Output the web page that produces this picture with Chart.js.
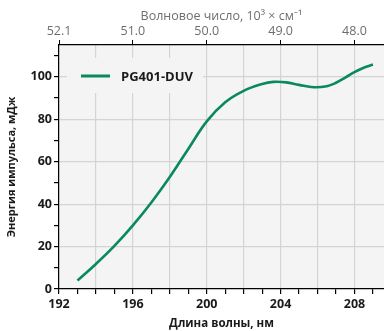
<!DOCTYPE html>
<html>
<head>
<meta charset="utf-8">
<script src="https://cdn.jsdelivr.net/npm/chart.js@4.4.0/dist/chart.umd.min.js"></script>
<style>
html,body{margin:0;padding:0;background:#fff;}
#wrap{width:384px;height:331px;}
</style>
</head>
<body>
<div id="wrap"><canvas id="c" width="384" height="331"></canvas></div>
<script>
const seriesLabel = "PG401-DUV";
const wavelengthNm = [193, 194, 195, 196, 197, 198, 199, 200, 201, 202, 203, 203.6, 204.3, 205, 205.8, 206.5, 207, 207.5, 208, 208.5, 209];
const energyMJ =     [4, 11.8, 20.3, 30, 40.8, 52.8, 66, 79, 88, 93.4, 96.6, 97.6, 97.4, 96.2, 95.1, 95.6, 97.2, 99.6, 102.2, 104.3, 105.8];
const bottomTickValues = [192, 196, 200, 204, 208];
const topTickLabels = ["52.1", "51.0", "50.0", "49.0", "48.0"];
const minorXTicks = [192, 193, 194, 195, 196, 197, 198, 199, 200, 201, 202, 203, 204, 205, 206, 207, 208, 209];
const yTicks = [0, 10, 20, 30, 40, 50, 60, 70, 80, 90, 100, 110];
const xTitle = "Длина волны, нм";
const x2Title = "Волновое число, 10³ × см⁻¹";
const yTitle = "Энергия импульса, мДж";

const FONT = "'Open Sans', 'Noto Sans', sans-serif";
const GREEN = "#0a8a5c";
const PLOT_BG = "#f4f4f4";
const GRID = "#d4d4d4";

const bgPlugin = {
  id: 'plotBg',
  beforeDraw(chart) {
    const {ctx, chartArea: a} = chart;
    ctx.save();
    ctx.fillStyle = PLOT_BG;
    ctx.fillRect(a.left, a.top, a.right - a.left, a.bottom - a.top);
    ctx.restore();
  }
};

const legendPlugin = {
  id: 'insideLegend',
  beforeDatasetsDraw(chart) {
    const {ctx, chartArea: a} = chart;
    const ds = chart.data.datasets[0];
    const x0 = a.left + 8, y0 = a.top + 13;
    ctx.save();
    ctx.fillStyle = PLOT_BG;
    ctx.fillRect(x0, y0, 136, 35);
    ctx.strokeStyle = ds.borderColor;
    ctx.lineWidth = 3;
    ctx.beginPath();
    ctx.moveTo(a.left + 22, a.top + 31);
    ctx.lineTo(a.left + 51, a.top + 31);
    ctx.stroke();
    ctx.fillStyle = "#1a1a1a";
    ctx.font = "bold 13px " + FONT;
    ctx.textBaseline = "middle";
    ctx.fillText(ds.label, a.left + 62, a.top + 32);
    ctx.restore();
  }
};

const setTicks = (vals) => (s) => { s.ticks = vals.map(v => ({value: v})); };

new Chart(document.getElementById('c'), {
  type: 'scatter',
  data: {
    datasets: [{
      label: seriesLabel,
      data: wavelengthNm.map((x, i) => ({x: x, y: energyMJ[i]})),
      showLine: true,
      borderColor: GREEN,
      borderWidth: 2.6,
      pointRadius: 0,
      tension: 0.4,
      fill: false
    }]
  },
  options: {
    responsive: false,
    animation: false,
    layout: {padding: {left: 0, right: 0, top: 0, bottom: 0}},
    plugins: {legend: {display: false}, tooltip: {enabled: false}},
    scales: {
      x: {
        type: 'linear', position: 'bottom',
        min: 192, max: 209.6,
        afterBuildTicks: setTicks(minorXTicks),
        afterFit(s) { s.height = 42; },
        border: {color: '#000', width: 1.2},
        grid: {
          color: (c) => (c.tick && c.tick.value % 2 === 0) ? GRID : 'rgba(0,0,0,0)',
          lineWidth: 1.2,
          tickColor: '#000', tickLength: 5, drawTicks: true
        },
        ticks: {
          autoSkip: false, maxRotation: 0, padding: 3,
          color: '#1a1a1a',
          font: {family: FONT, size: 12.5, weight: 'bold'},
          callback: (v) => bottomTickValues.includes(v) ? String(v) : ''
        },
        title: {display: true, text: xTitle, color: '#1a1a1a', padding: {top: 2, bottom: 0},
          font: {family: FONT, size: 11.5, weight: 'bold'}}
      },
      x2: {
        type: 'linear', position: 'top',
        min: 192, max: 209.6,
        afterBuildTicks: setTicks(bottomTickValues),
        afterFit(s) { s.height = 45; },
        border: {color: '#000', width: 1.2},
        grid: {drawOnChartArea: false, tickColor: '#000', tickLength: 5},
        ticks: {
          autoSkip: false, maxRotation: 0, padding: 1,
          color: '#6e6e6e',
          font: {family: FONT, size: 12.5},
          callback: (v) => { const i = bottomTickValues.indexOf(v); return i >= 0 ? topTickLabels[i] : ''; }
        },
        title: {display: true, text: x2Title, color: '#6e6e6e', padding: {top: 9, bottom: 0},
          font: {family: FONT, size: 12.5}}
      },
      y: {
        type: 'linear', position: 'left',
        min: 0, max: 115,
        afterBuildTicks: setTicks(yTicks),
        afterFit(s) { s.width = 59; },
        border: {color: '#000', width: 1.2},
        grid: {
          color: (c) => (c.tick && c.tick.value % 20 === 0 && c.tick.value > 0) ? GRID : 'rgba(0,0,0,0)',
          lineWidth: 1.2,
          tickColor: '#000', tickLength: 5
        },
        ticks: {
          autoSkip: false, padding: 2,
          color: '#1a1a1a',
          font: {family: FONT, size: 12.5, weight: 'bold'},
          callback: (v) => (v % 20 === 0) ? String(v) : ''
        },
        title: {display: true, text: yTitle, color: '#1a1a1a', padding: {top: 5, bottom: 0},
          font: {family: FONT, size: 11, weight: 'bold'}}
      }
    }
  },
  plugins: [bgPlugin, legendPlugin]
});
</script>
</body>
</html>
